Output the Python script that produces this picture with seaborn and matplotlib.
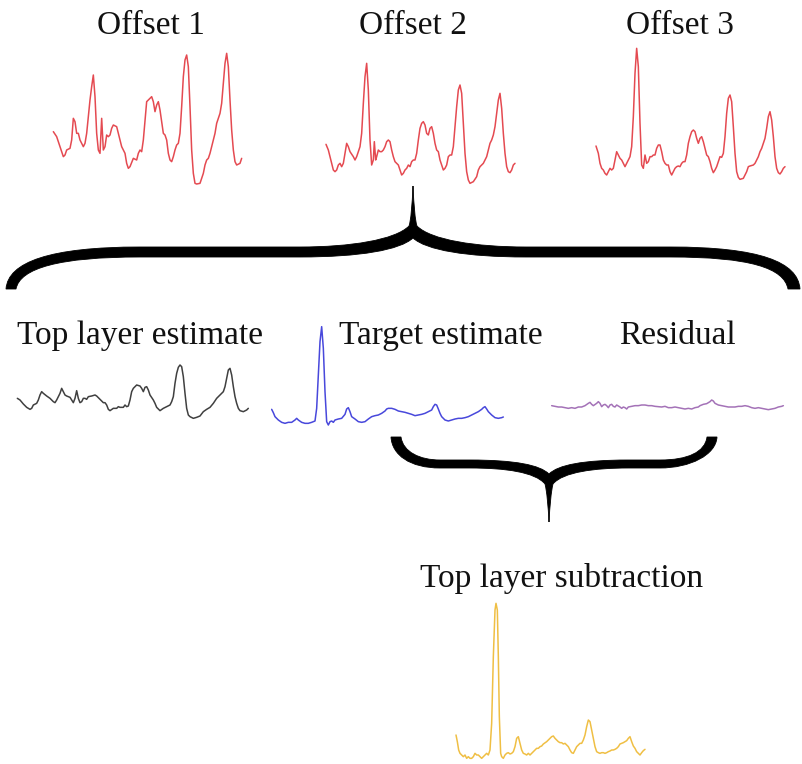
import numpy as np
import pandas as pd
import matplotlib
matplotlib.use("Agg")
import matplotlib.pyplot as plt
from matplotlib.path import Path
from matplotlib.patches import PathPatch
import seaborn as sns

sns.set_theme(style="white")
plt.rcParams["font.family"] = ["Liberation Serif", "DejaVu Serif"]

# ---- signals (sample index, amplitude) ----
offset1_x = [40, 50, 60, 70, 75, 80, 90, 95, 100, 105, 110, 115, 120, 130, 135, 140, 145, 150, 155, 160,
             165, 170, 175, 180, 185, 190, 195, 200, 205, 210, 215, 220, 230, 235, 240, 245, 250, 255, 260, 265,
             270, 280, 290, 295, 300, 305, 310, 320, 325, 330, 335, 340, 345, 350, 355, 360, 365, 370, 375, 380,
             385, 390, 395, 400, 405, 410, 415, 420, 425, 430, 435, 440, 445, 450, 455, 460, 465, 470, 480, 490,
             495, 500, 505, 510, 515, 520, 525, 530, 535, 540, 545, 550, 555, 560, 565, 570, 575, 580, 585, 590,
             600, 605]
offset1_y = [175, 160, 130, 100, 105, 120, 125, 150, 215, 205, 170, 170, 150, 130, 140, 170, 220, 270, 310, 345,
             280, 170, 120, 110, 215, 120, 130, 165, 160, 165, 185, 195, 190, 170, 150, 130, 120, 110, 80, 65,
             70, 95, 90, 110, 120, 115, 150, 265, 270, 275, 280, 265, 235, 255, 265, 240, 205, 170, 165, 150,
             110, 90, 85, 100, 120, 135, 140, 170, 250, 340, 390, 405, 370, 250, 120, 50, 20, 18, 20, 50,
             75, 90, 95, 110, 130, 150, 170, 200, 215, 230, 260, 320, 380, 410, 370, 270, 180, 120, 85, 75,
             80, 95]

offset2_x = [48, 55, 60, 65, 70, 75, 80, 85, 90, 95, 100, 105, 110, 115, 120, 130, 135, 140, 145, 150,
             155, 160, 165, 170, 175, 180, 185, 190, 193, 197, 200, 205, 210, 215, 220, 225, 230, 235, 240, 245,
             250, 255, 260, 265, 270, 275, 280, 285, 290, 295, 300, 305, 310, 315, 320, 325, 330, 335, 340, 345,
             350, 355, 360, 365, 370, 375, 380, 385, 390, 395, 400, 405, 410, 415, 420, 425, 430, 435, 440, 445,
             450, 455, 460, 465, 470, 475, 480, 490, 500, 505, 510, 520, 525, 530, 535, 540, 545, 550, 555, 560,
             565, 570, 575, 580, 585, 590, 595, 600, 605, 610, 615]
offset2_y = [137, 120, 100, 80, 60, 55, 60, 75, 80, 70, 80, 110, 140, 130, 115, 100, 90, 100, 115, 130,
             170, 260, 340, 380, 300, 150, 75, 90, 145, 90, 100, 120, 115, 115, 120, 130, 145, 150, 145, 120,
             100, 85, 80, 75, 60, 45, 50, 60, 65, 75, 70, 85, 90, 90, 110, 150, 185, 200, 205, 195,
             170, 165, 185, 190, 170, 140, 120, 115, 90, 75, 60, 65, 75, 100, 105, 105, 130, 190, 250, 300,
             315, 290, 200, 110, 55, 30, 20, 25, 40, 60, 70, 80, 90, 100, 120, 140, 150, 165, 190, 230,
             270, 290, 245, 170, 110, 70, 55, 52, 60, 75, 80]

offset3_x = [48, 55, 60, 65, 70, 75, 80, 85, 90, 95, 100, 105, 110, 115, 120, 125, 130, 135, 140, 145,
             150, 155, 160, 165, 170, 175, 180, 185, 190, 195, 200, 205, 210, 215, 220, 225, 230, 235, 240, 245,
             250, 255, 260, 265, 270, 275, 280, 285, 290, 295, 300, 305, 310, 315, 320, 325, 330, 335, 340, 345,
             350, 355, 360, 365, 370, 375, 380, 385, 390, 395, 400, 405, 410, 415, 420, 425, 430, 435, 440, 445,
             450, 455, 460, 465, 470, 475, 480, 490, 495, 500, 505, 510, 520, 525, 530, 535, 540, 545, 550, 555,
             560, 565, 570, 575, 580, 585, 590, 595, 600, 605, 610, 615]
offset3_y = [132, 110, 80, 65, 60, 50, 45, 55, 65, 60, 65, 90, 115, 105, 95, 90, 80, 70, 80, 90,
             100, 130, 220, 350, 425, 370, 200, 75, 65, 105, 80, 85, 100, 100, 105, 105, 125, 135, 135, 115,
             90, 80, 75, 75, 55, 45, 55, 65, 70, 72, 70, 80, 85, 85, 105, 140, 160, 175, 180, 175,
             155, 140, 155, 160, 145, 125, 105, 100, 85, 65, 52, 60, 70, 85, 100, 98, 110, 160, 230, 275,
             285, 265, 190, 110, 55, 38, 32, 35, 45, 55, 70, 72, 75, 80, 90, 100, 115, 125, 140, 155,
             185, 220, 235, 210, 160, 100, 65, 52, 48, 55, 65, 70]

top_layer_x = [52, 60, 70, 80, 90, 95, 100, 110, 115, 120, 125, 130, 140, 150, 160, 165, 170, 175, 180, 185,
               190, 195, 200, 210, 215, 220, 225, 230, 235, 240, 245, 250, 255, 260, 265, 275, 285, 290, 300, 310,
               315, 320, 325, 330, 340, 350, 355, 360, 370, 375, 380, 385, 390, 395, 400, 410, 420, 425, 430, 435,
               440, 445, 450, 460, 465, 470, 480, 490, 500, 510, 515, 520, 525, 530, 535, 540, 545, 550, 555, 560,
               565, 570, 580, 590, 600, 610, 620, 630, 640, 650, 660, 670, 675, 680, 685, 690, 695, 700, 705, 710,
               715, 720, 730, 740, 745]
top_layer_y = [95, 90, 78, 68, 62, 65, 75, 80, 90, 105, 115, 110, 102, 95, 85, 82, 90, 100, 110, 125,
               115, 105, 102, 98, 90, 82, 95, 118, 95, 82, 85, 95, 95, 92, 100, 102, 105, 102, 92, 82,
               82, 75, 62, 58, 65, 65, 70, 68, 68, 75, 70, 72, 90, 115, 125, 135, 132, 125, 115, 128,
               130, 120, 105, 90, 80, 68, 58, 65, 70, 75, 85, 100, 140, 170, 188, 195, 190, 160, 110, 65,
               45, 40, 35, 38, 42, 55, 62, 68, 80, 95, 105, 115, 130, 155, 180, 185, 165, 130, 100, 80,
               65, 58, 55, 60, 65]

target_x = [20, 25, 30, 40, 50, 60, 70, 80, 90, 95, 100, 110, 120, 130, 140, 150, 155, 160, 165, 170,
            175, 180, 185, 190, 195, 200, 205, 210, 220, 230, 240, 245, 250, 255, 260, 270, 280, 290, 300, 310,
            320, 330, 340, 350, 360, 365, 370, 380, 390, 400, 410, 420, 430, 440, 450, 460, 470, 480, 490, 500,
            505, 510, 515, 520, 525, 530, 540, 550, 560, 570, 580, 590, 600, 610, 620, 630, 640, 650, 655, 660,
            665, 670, 680, 690, 700, 710, 715]
target_y = [62, 52, 40, 30, 23, 20, 23, 23, 30, 35, 30, 23, 20, 20, 23, 27, 65, 165, 265, 310,
            245, 115, 25, 15, 25, 27, 23, 30, 33, 35, 47, 63, 67, 55, 40, 33, 25, 23, 25, 33,
            40, 43, 45, 50, 57, 63, 65, 65, 62, 57, 55, 53, 50, 47, 43, 45, 47, 50, 55, 60,
            70, 77, 75, 63, 50, 40, 30, 27, 30, 33, 35, 35, 37, 40, 45, 50, 55, 62, 67, 70,
            63, 55, 45, 37, 35, 37, 39]

residual_x = [35, 45, 55, 65, 75, 85, 95, 105, 115, 125, 135, 145, 150, 155, 160, 170, 175, 180, 185, 190,
              195, 200, 205, 210, 215, 220, 225, 230, 240, 245, 250, 255, 260, 265, 275, 285, 295, 305, 315, 325,
              335, 345, 355, 365, 375, 385, 395, 405, 415, 425, 435, 445, 455, 465, 475, 480, 490, 500, 510, 515,
              520, 525, 535, 545, 555, 565, 575, 585, 595, 605, 615, 625, 635, 645, 655, 665, 675, 685, 695, 705,
              715, 725, 730]
residual_y = [28, 26, 24, 24, 22, 20, 22, 20, 24, 24, 28, 35, 38, 32, 28, 35, 40, 35, 25, 30,
              32, 28, 22, 30, 32, 26, 24, 30, 24, 20, 24, 22, 18, 24, 26, 28, 28, 30, 30, 28,
              28, 26, 25, 24, 26, 22, 22, 24, 22, 20, 18, 20, 18, 22, 24, 28, 32, 34, 40, 45,
              42, 35, 30, 28, 26, 24, 24, 24, 26, 26, 28, 26, 22, 20, 22, 20, 18, 16, 18, 20,
              24, 26, 28]

subtraction_x = [48, 52, 56, 60, 65, 70, 75, 80, 85, 90, 95, 100, 105, 110, 115, 120, 125, 130, 135, 140,
                 145, 150, 155, 160, 165, 168, 172, 175, 178, 182, 185, 190, 195, 200, 205, 210, 215, 220, 225, 230,
                 235, 240, 245, 250, 255, 260, 265, 270, 275, 280, 285, 290, 295, 300, 305, 310, 320, 330, 335, 340,
                 345, 350, 355, 360, 365, 370, 375, 380, 385, 390, 395, 400, 405, 410, 415, 420, 425, 430, 435, 440,
                 445, 450, 455, 460, 465, 470, 475, 480, 485, 490, 495, 500, 505, 510, 515, 520, 525, 530, 535, 540,
                 545, 550, 555, 560, 565, 570, 575, 580, 585, 590, 595, 600, 605, 610, 615]
subtraction_y = [75, 55, 30, 20, 15, 10, 15, 5, 10, 5, 5, 10, 20, 15, 15, 10, 5, 10, 15, 20,
                 15, 30, 110, 310, 450, 470, 450, 310, 130, 20, 10, 5, 15, 20, 22, 18, 20, 25, 40, 65,
                 70, 50, 30, 20, 18, 15, 20, 15, 20, 25, 30, 35, 35, 40, 42, 48, 55, 65, 70, 72,
                 65, 60, 55, 52, 52, 48, 50, 45, 40, 30, 22, 20, 30, 40, 45, 50, 50, 60, 75, 100,
                 120, 115, 90, 65, 40, 25, 22, 20, 22, 22, 20, 22, 25, 27, 30, 30, 32, 35, 40, 48,
                 50, 52, 55, 58, 65, 70, 55, 42, 35, 25, 20, 15, 22, 28, 32]

# ---- layout ----
W, H = 803, 764
fig = plt.figure(figsize=(W / 100, H / 100), dpi=100)
fig.patch.set_facecolor("white")

canvas = fig.add_axes([0, 0, 1, 1])
canvas.set_xlim(0, W)
canvas.set_ylim(H, 0)
canvas.axis("off")


def trace(box, xs, ys, color, lw=1.1, alpha=0.9):
    x0, y0, w, h = box
    ax = fig.add_axes([x0 / W, 1 - (y0 + h) / H, w / W, h / H])
    df = pd.DataFrame({"t": xs, "amp": ys})
    sns.lineplot(data=df, x="t", y="amp", ax=ax, color=color, lw=lw, alpha=alpha,
                 sort=False, estimator=None)
    ax.set_xlim(0, 3 * w)
    ax.set_ylim(0, 3 * h)
    ax.axis("off")
    ax.patch.set_alpha(0)


trace((40, 40, 220, 150), offset1_x, offset1_y, "#e2363e")
trace((310, 50, 220, 140), offset2_x, offset2_y, "#e2363e")
trace((580, 40, 210, 150), offset3_x, offset3_y, "#e2363e")
trace((0, 350, 270, 80), top_layer_x, top_layer_y, "#2b2b2b")
trace((265, 315, 250, 115), target_x, target_y, "#3434d8")
trace((540, 385, 250, 30), residual_x, residual_y, "#9a63b0")
trace((440, 590, 220, 170), subtraction_x, subtraction_y, "#eeb830")

# ---- labels ----
labels = [("Offset 1", 151, 26), ("Offset 2", 413, 26), ("Offset 3", 680, 26),
          ("Top layer estimate", 140, 336), ("Target estimate", 441, 336),
          ("Residual", 677, 336), ("Top layer subtraction", 562, 578)]
for txt, x, y in labels:
    canvas.text(x, y, txt, ha="center", va="center", fontsize=24, color="#111111")

# ---- braces ----
M, L, C = Path.MOVETO, Path.LINETO, Path.CURVE4


def brace_patch(verts, codes):
    canvas.add_patch(PathPatch(Path(verts, codes), facecolor="black", edgecolor="black", lw=0.6))


big = [(413, 186),
       (412, 206), (411, 220), (409, 226),
       (395, 240), (350, 247), (300, 247),
       (140, 247),
       (50, 247), (8, 262), (6, 289),
       (16, 289),
       (20, 268), (60, 257), (140, 257),
       (300, 257),
       (360, 257), (400, 250), (413, 238),
       (426, 250), (466, 257), (526, 257),
       (670, 257),
       (750, 257), (784, 268), (788, 289),
       (800, 289),
       (798, 262), (760, 247), (670, 247),
       (526, 247),
       (476, 247), (431, 240), (417, 226),
       (415, 220), (414, 206), (413, 186)]
big_codes = [M, C, C, C, C, C, C, L, C, C, C, L, C, C, C, L, C, C, C, C, C, C, L,
             C, C, C, L, C, C, C, L, C, C, C, C, C, C]
brace_patch(big, big_codes)

small = [(549, 522),
         (548, 505), (547, 492), (545, 484),
         (535, 472), (505, 468), (470, 468),
         (440, 468),
         (410, 468), (392, 455), (391, 437),
         (401, 437),
         (403, 452), (420, 460), (440, 460),
         (470, 460),
         (515, 460), (540, 465), (549, 474),
         (558, 465), (583, 460), (628, 460),
         (660, 460),
         (688, 460), (705, 452), (707, 437),
         (717, 437),
         (716, 455), (690, 468), (660, 468),
         (628, 468),
         (595, 468), (563, 472), (553, 484),
         (551, 492), (550, 505), (549, 522)]
brace_patch(small, big_codes)

fig.savefig("out.png", dpi=100, facecolor="white")
